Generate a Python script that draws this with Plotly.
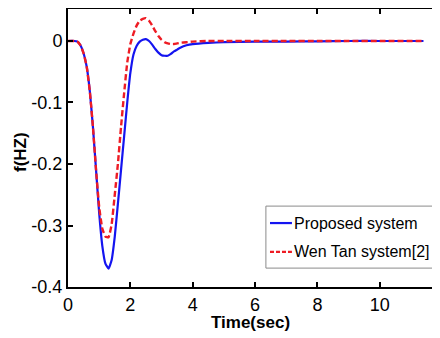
import plotly.graph_objects as go

# Data
time_s = [0, 0.2, 0.3, 0.4, 0.5, 0.6, 0.7, 0.8, 0.9, 1.0, 1.1, 1.2, 1.3, 1.4, 1.5,
          1.6, 1.7, 1.8, 1.9, 2.0, 2.1, 2.2, 2.3, 2.4, 2.5, 2.6, 2.7, 2.8, 2.9, 3.0,
          3.1, 3.2, 3.3, 3.4, 3.5, 3.6, 3.8, 4.0, 4.5, 5.0, 6.0, 7.0, 8.0, 9.0, 10.0, 11.4]
proposed = [0, 0, -0.001, -0.007, -0.02, -0.042, -0.082, -0.14, -0.21, -0.28,
            -0.333, -0.362, -0.370, -0.356, -0.318, -0.265, -0.21, -0.155, -0.1, -0.052,
            -0.022, -0.008, -0.001, 0.002, 0.003, 0.0, -0.006, -0.013, -0.019, -0.023,
            -0.024, -0.024, -0.021, -0.017, -0.014, -0.011, -0.007, -0.005, -0.003, -0.002,
            -0.001, -0.001, -0.0005, 0, 0, 0]
wen_tan = [0, 0, -0.001, -0.007, -0.02, -0.042, -0.082, -0.14, -0.21, -0.27,
           -0.305, -0.318, -0.319, -0.298, -0.25, -0.2, -0.14, -0.085, -0.035, -0.005,
           0.012, 0.025, 0.033, 0.036, 0.037, 0.033, 0.025, 0.016, 0.008, 0.002,
           -0.002, -0.004, -0.005, -0.005, -0.004, -0.003, -0.002, -0.001, 0, 0,
           0, 0, 0, 0, 0, 0]
series_names = ["Proposed system", "Wen Tan system[2]"]
x_ticks = [0, 2, 4, 6, 8, 10]
y_ticks = [-0.4, -0.3, -0.2, -0.1, 0]
y_tick_text = ["-0.4", "-0.3", "-0.2", "-0.1", "0"]

BLUE = "#1414f0"
RED = "#ee1c24"
FONT = "Liberation Sans, Arial, sans-serif"

fig = go.Figure()
fig.add_trace(go.Scatter(x=time_s, y=proposed, mode="lines", name=series_names[0],
                         line=dict(color=BLUE, width=2.2, shape="spline", smoothing=0.4),
                         showlegend=False))
fig.add_trace(go.Scatter(x=time_s, y=wen_tan, mode="lines", name=series_names[1],
                         line=dict(color=RED, width=2.4, dash="6px,3px", shape="spline", smoothing=0.4),
                         showlegend=False))

axis_common = dict(showline=True, linecolor="black", linewidth=2, mirror="ticks",
                   ticks="inside", ticklen=5, tickwidth=1.5, tickcolor="black",
                   showgrid=False, zeroline=False, automargin=False,
                   tickfont=dict(family=FONT, size=18, color="black"))

fig.update_xaxes(range=[0, 11.93], tickvals=x_ticks, ticktext=[str(v) for v in x_ticks],
                 **axis_common)
fig.update_yaxes(range=[-0.4, 0.052], tickvals=y_ticks, ticktext=y_tick_text,
                 **axis_common)

# Axis titles as annotations for precise placement
fig.add_annotation(text="<b>Time(sec)</b>", xref="paper", yref="paper", x=0.49, y=-0.128,
                   xanchor="center", yanchor="middle", showarrow=False,
                   font=dict(family=FONT, size=17, color="black"))
fig.add_annotation(text="<b>f(HZ)</b>", xref="paper", yref="paper", x=-0.126, y=0.486,
                   xanchor="center", yanchor="middle", showarrow=False, textangle=-90,
                   font=dict(family=FONT, size=17, color="black"))

# Manual legend (box, short line samples, labels) in paper coordinates
lx0, lx1, ly0, ly1 = 0.532, 0.995, 0.068, 0.291
row_y = [0.230, 0.126]
fig.add_shape(type="rect", xref="paper", yref="paper", x0=lx0, x1=lx1, y0=ly0, y1=ly1,
              line=dict(color="#8a8a8a", width=1), fillcolor="white", layer="above")
fig.add_shape(type="line", xref="paper", yref="paper", x0=0.543, x1=0.602, y0=row_y[0], y1=row_y[0],
              line=dict(color=BLUE, width=2.2), layer="above")
fig.add_shape(type="line", xref="paper", yref="paper", x0=0.543, x1=0.602, y0=row_y[1], y1=row_y[1],
              line=dict(color=RED, width=2.2, dash="4px,2px"), layer="above")
for name, yy in zip(series_names, row_y):
    fig.add_annotation(text=name, xref="paper", yref="paper", x=0.602, y=yy,
                       xanchor="left", yanchor="middle", showarrow=False,
                       font=dict(family=FONT, size=16, color="black"))

# The page body adds an 8px offset; size the figure so the plot frame lands where the reference has it
fig.update_layout(width=432, height=330, margin=dict(l=60, r=0, t=1, b=51),
                  paper_bgcolor="white", plot_bgcolor="white")
fig.write_html("out.html")
